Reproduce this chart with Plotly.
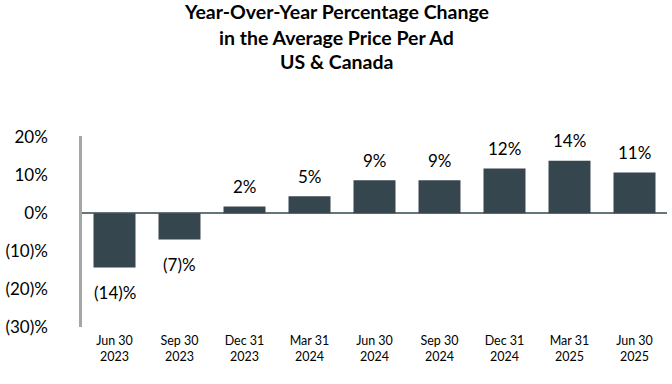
import plotly.graph_objects as go

categories = ["Jun 30<br>2023", "Sep 30<br>2023", "Dec 31<br>2023", "Mar 31<br>2024",
              "Jun 30<br>2024", "Sep 30<br>2024", "Dec 31<br>2024", "Mar 31<br>2025",
              "Jun 30<br>2025"]
values = [-14.3, -6.9, 1.8, 4.5, 8.7, 8.7, 11.8, 13.9, 10.8]
labels = ["(14)%", "(7)%", "2%", "5%", "9%", "9%", "12%", "14%", "11%"]
tick_vals = [20, 10, 0, -10, -20, -30]
tick_text = ["20%", "10%", "0%", "(10)%", "(20)%", "(30)%"]
title_lines = ["Year-Over-Year Percentage Change", "in the Average Price Per Ad", "US & Canada"]

FONT = "Lato"
L, R, T, B = 82, 5, 136, 57
W, H = 672, 384
pw, ph = W - L - R, H - T - B

fig = go.Figure(go.Bar(
    x=categories, y=values,
    marker=dict(color="#36464F", line=dict(width=0)),
    hoverinfo="x+y",
))

# value labels, placed through the data scale
for c, v, lab in zip(categories, values, labels):
    fig.add_annotation(
        x=c, y=v, text=lab, showarrow=False,
        xanchor="center", yanchor="middle",
        yshift=20 if v >= 0 else -25,
        font=dict(family=FONT, size=17, color="#000000"),
    )

fig.update_layout(
    width=W, height=H,
    margin=dict(l=L, r=R, t=T, b=B, autoexpand=False),
    paper_bgcolor="white", plot_bgcolor="white",
    bargap=0.354,
    showlegend=False,
    font=dict(family=FONT, color="#000000"),
)

title_centers = [11, 37, 62]
for line, yc in zip(title_lines, title_centers):
    fig.add_annotation(
        text="<b>" + line + "</b>", showarrow=False,
        xref="paper", yref="paper",
        x=(W / 2 - L) / pw, y=(ph + T - yc) / ph,
        xanchor="center", yanchor="middle", align="center",
        font=dict(family=FONT, size=19.5, color="#000000"),
    )

fig.update_yaxes(
    range=[-30, 20.4], tickvals=tick_vals, ticktext=tick_text,
    showgrid=False, zeroline=True, zerolinecolor="#66757C", zerolinewidth=2,
    showline=True, linecolor="#A6A6A6", linewidth=2.5,
    ticks="", ticklabelstandoff=28, automargin=False,
    tickfont=dict(family=FONT, size=17, color="#000000"),
)
fig.update_xaxes(
    showgrid=False, showline=False, ticks="", automargin=False,
    tickfont=dict(family=FONT, size=12.5, color="#000000"),
    ticklabelstandoff=4,
)

fig.write_html("out.html", config={"displayModeBar": False},
               post_script="document.body.style.margin='0';")
